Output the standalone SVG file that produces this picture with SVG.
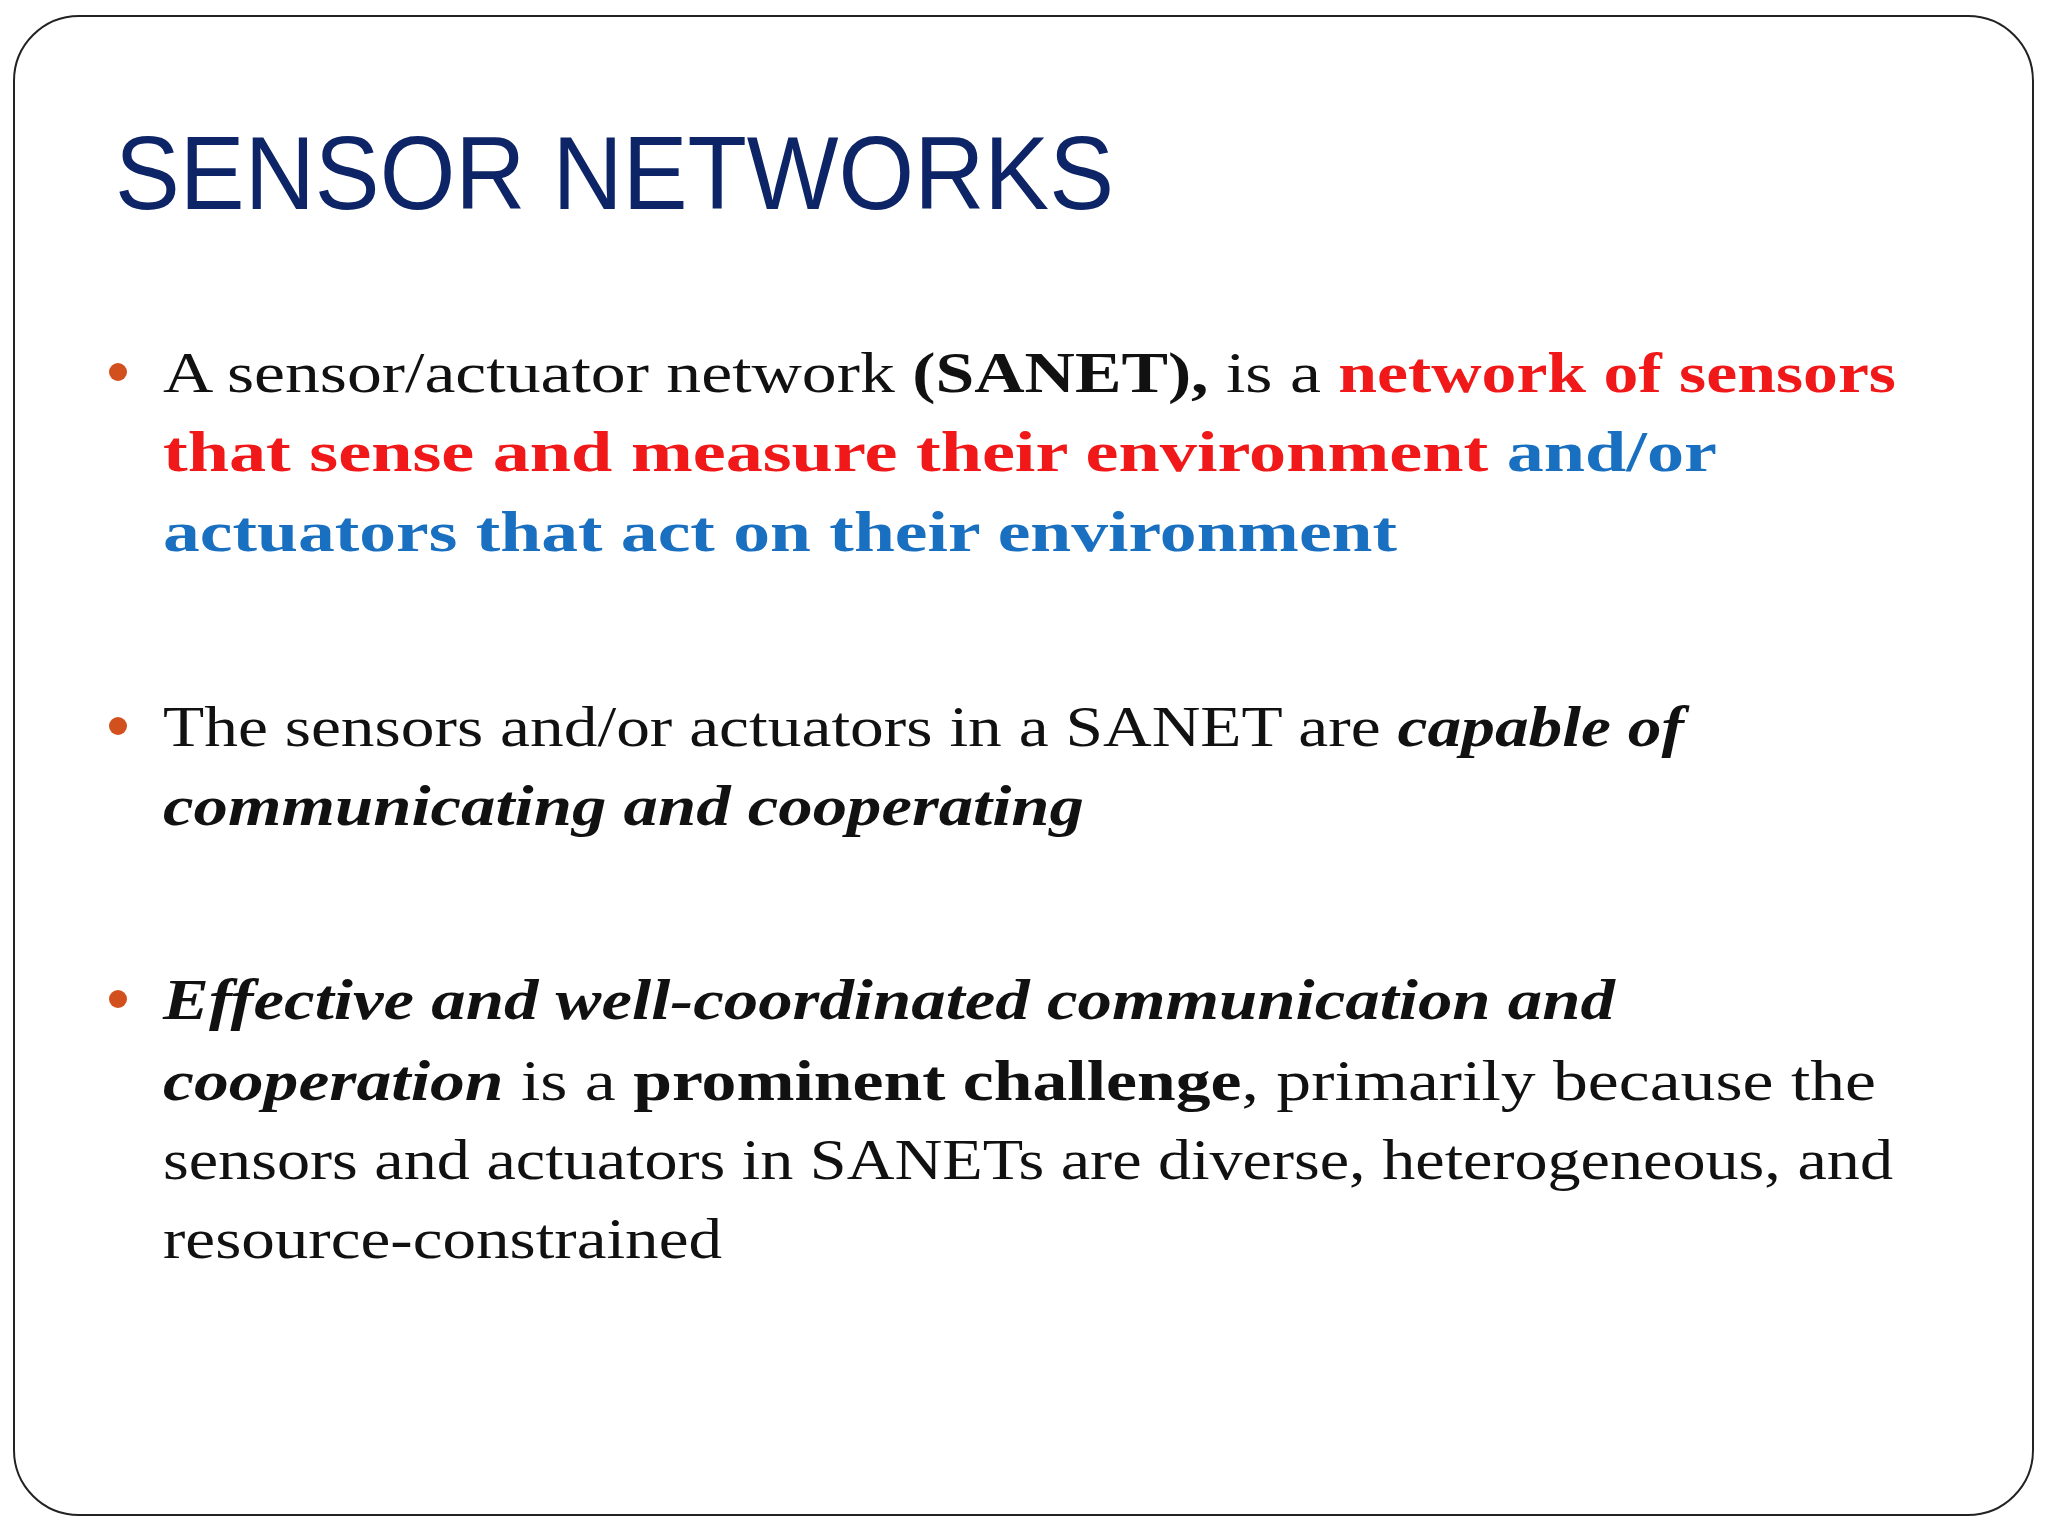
<svg xmlns="http://www.w3.org/2000/svg" width="2048" height="1536" viewBox="0 0 2048 1536">
<style>
.t{font-family:"Liberation Serif",serif;font-size:58px;fill:#111}
.b{font-weight:bold}
.i{font-style:italic}
.r{fill:#f01818;font-weight:bold}
.bl{fill:#1a70c0;font-weight:bold}
.dot{fill:#d2501e}
</style>
<rect width="2048" height="1536" fill="#fff"/>
<rect x="14" y="16" width="2019" height="1499" rx="65" fill="#fff" stroke="#222" stroke-width="2"/>
<g id="title"><text x="115" y="209" font-family="Liberation Sans,Arial,sans-serif" font-size="104" fill="#0d2466" textLength="999" lengthAdjust="spacingAndGlyphs">SENSOR NETWORKS</text></g>
<g id="bullet1">
<circle class="dot" cx="118" cy="372" r="9"/>
<text class="t" x="163" y="392" textLength="1733" lengthAdjust="spacingAndGlyphs">A sensor/actuator network <tspan class="b">(SANET),</tspan> is a <tspan class="r">network of sensors</tspan></text>
<text class="t" x="163" y="471" textLength="1554" lengthAdjust="spacingAndGlyphs"><tspan class="r">that sense and measure their environment</tspan> <tspan class="bl">and/or</tspan></text>
<text class="t" x="163" y="551" textLength="1234" lengthAdjust="spacingAndGlyphs"><tspan class="bl">actuators that act on their environment</tspan></text>
</g>
<g id="bullet2">
<circle class="dot" cx="118" cy="726" r="9"/>
<text class="t" x="163" y="746" textLength="1521" lengthAdjust="spacingAndGlyphs">The sensors and/or actuators in a SANET are <tspan class="b i">capable of</tspan></text>
<text class="t b i" x="163" y="825" textLength="921" lengthAdjust="spacingAndGlyphs">communicating and cooperating</text>
</g>
<g id="bullet3">
<circle class="dot" cx="118" cy="999" r="9"/>
<text class="t b i" x="163" y="1019" textLength="1452" lengthAdjust="spacingAndGlyphs">Effective and well-coordinated communication and</text>
<text class="t" x="163" y="1100" textLength="1713" lengthAdjust="spacingAndGlyphs"><tspan class="b i">cooperation</tspan> is a <tspan class="b">prominent challenge</tspan>, primarily because the</text>
<text class="t" x="163" y="1179" textLength="1730" lengthAdjust="spacingAndGlyphs">sensors and actuators in SANETs are diverse, heterogeneous, and</text>
<text class="t" x="163" y="1258" textLength="559" lengthAdjust="spacingAndGlyphs">resource-constrained</text>
</g>
</svg>
